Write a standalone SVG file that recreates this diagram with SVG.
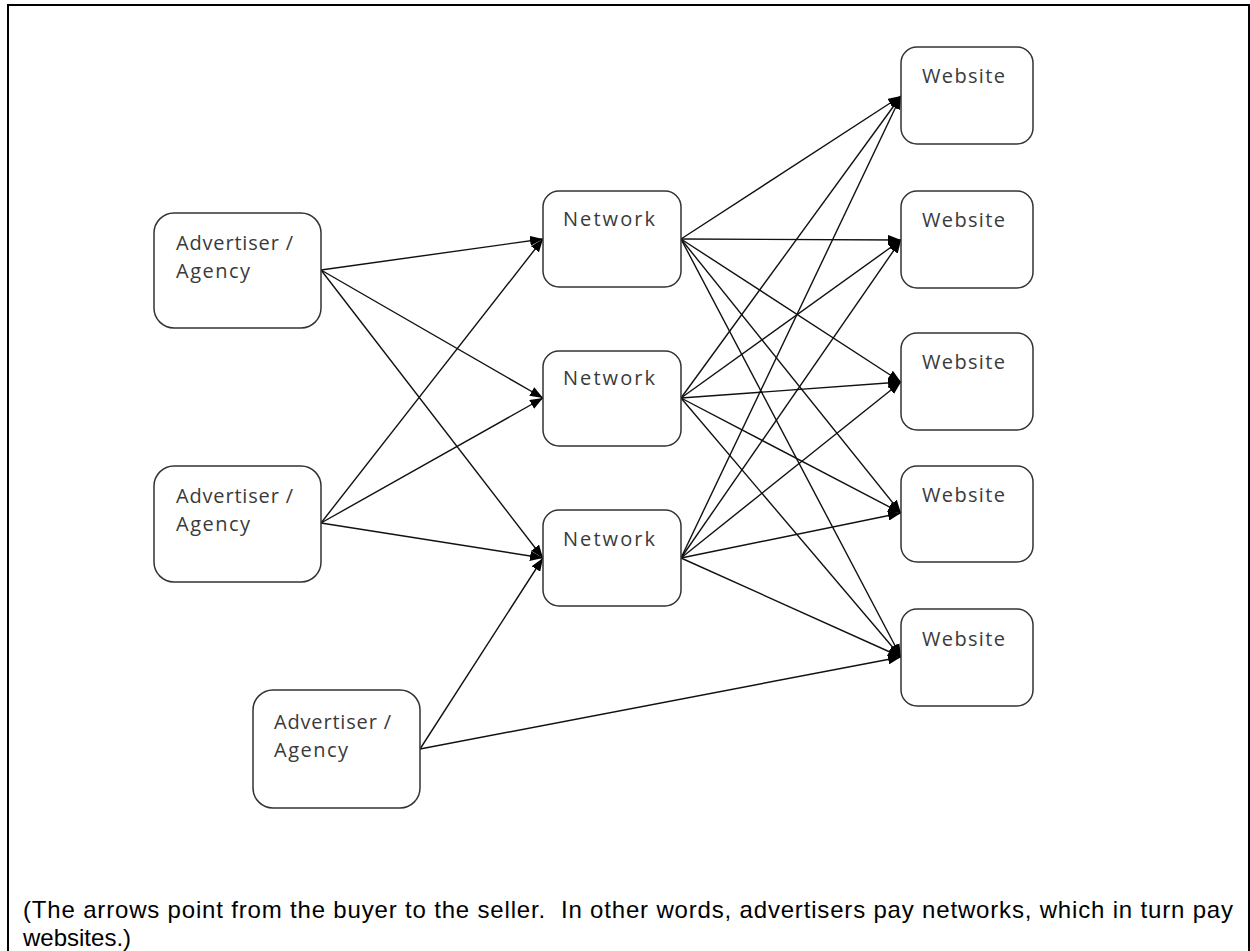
<svg xmlns="http://www.w3.org/2000/svg" width="1250" height="951" viewBox="0 0 1250 951">
<style>
.box{fill:#fff;stroke:#333;stroke-width:1.5}
.lbl{font-family:"Open Sans","Noto Sans",sans-serif;font-size:20px;fill:#3a3a3a}
.edge{stroke:#111;stroke-width:1.4;fill:none;marker-end:url(#ah)}
.cap{font-family:"Liberation Sans",Arial,sans-serif;font-size:24px;fill:#000}
.frame{stroke:#000;stroke-width:2;fill:none}
</style>
<defs>
<marker id="ah" markerUnits="userSpaceOnUse" markerWidth="13" markerHeight="10" refX="13" refY="5" orient="auto">
<path d="M0,0 L13,5 L0,10 z" fill="#000"/>
</marker>
</defs>
<rect width="1250" height="951" fill="#fff"/>
<path class="frame" d="M8,951 V5 H1249 V951"/>
<g id="connectors">
<line class="edge" x1="321" y1="270" x2="543" y2="239"/>
<line class="edge" x1="321" y1="270" x2="543" y2="398"/>
<line class="edge" x1="321" y1="270" x2="543" y2="558"/>
<line class="edge" x1="321" y1="523" x2="543" y2="239"/>
<line class="edge" x1="321" y1="523" x2="543" y2="398"/>
<line class="edge" x1="321" y1="523" x2="543" y2="558"/>
<line class="edge" x1="420" y1="749" x2="543" y2="558"/>
<line class="edge" x1="420" y1="749" x2="901" y2="657"/>
<line class="edge" x1="681" y1="239" x2="901" y2="96"/>
<line class="edge" x1="681" y1="239" x2="901" y2="240"/>
<line class="edge" x1="681" y1="239" x2="901" y2="382"/>
<line class="edge" x1="681" y1="239" x2="901" y2="513"/>
<line class="edge" x1="681" y1="239" x2="901" y2="657"/>
<line class="edge" x1="681" y1="398" x2="901" y2="96"/>
<line class="edge" x1="681" y1="398" x2="901" y2="240"/>
<line class="edge" x1="681" y1="398" x2="901" y2="382"/>
<line class="edge" x1="681" y1="398" x2="901" y2="513"/>
<line class="edge" x1="681" y1="398" x2="901" y2="657"/>
<line class="edge" x1="681" y1="558" x2="901" y2="96"/>
<line class="edge" x1="681" y1="558" x2="901" y2="240"/>
<line class="edge" x1="681" y1="558" x2="901" y2="382"/>
<line class="edge" x1="681" y1="558" x2="901" y2="513"/>
<line class="edge" x1="681" y1="558" x2="901" y2="657"/>
</g>
<g id="adv1">
<rect class="box" x="154" y="213" width="167" height="115" rx="20"/>
<text class="lbl" x="176" y="250" textLength="117">Advertiser /</text>
<text class="lbl" x="176" y="278" textLength="74">Agency</text>
</g>
<g id="adv2">
<rect class="box" x="154" y="466" width="167" height="116" rx="20"/>
<text class="lbl" x="176" y="503" textLength="117">Advertiser /</text>
<text class="lbl" x="176" y="531" textLength="74">Agency</text>
</g>
<g id="adv3">
<rect class="box" x="253" y="690" width="167" height="118" rx="20"/>
<text class="lbl" x="274" y="729" textLength="117">Advertiser /</text>
<text class="lbl" x="274" y="757" textLength="74">Agency</text>
</g>
<g id="net1">
<rect class="box" x="543" y="191" width="138" height="96" rx="16"/>
<text class="lbl" x="563" y="226" textLength="92">Network</text>
</g>
<g id="net2">
<rect class="box" x="543" y="351" width="138" height="95" rx="16"/>
<text class="lbl" x="563" y="385" textLength="92">Network</text>
</g>
<g id="net3">
<rect class="box" x="543" y="510" width="138" height="96" rx="16"/>
<text class="lbl" x="563" y="546" textLength="92">Network</text>
</g>
<g id="web1">
<rect class="box" x="901" y="47" width="132" height="97" rx="16"/>
<text class="lbl" x="922" y="83" textLength="83">Website</text>
</g>
<g id="web2">
<rect class="box" x="901" y="191" width="132" height="97" rx="16"/>
<text class="lbl" x="922" y="227" textLength="83">Website</text>
</g>
<g id="web3">
<rect class="box" x="901" y="333" width="132" height="97" rx="16"/>
<text class="lbl" x="922" y="369" textLength="83">Website</text>
</g>
<g id="web4">
<rect class="box" x="901" y="466" width="132" height="96" rx="16"/>
<text class="lbl" x="922" y="502" textLength="83">Website</text>
</g>
<g id="web5">
<rect class="box" x="901" y="609" width="132" height="97" rx="16"/>
<text class="lbl" x="922" y="646" textLength="83">Website</text>
</g>
<g id="caption">
<text class="cap" x="23" y="918" textLength="1210" xml:space="preserve">(The arrows point from the buyer to the seller.  In other words, advertisers pay networks, which in turn pay</text>
<text class="cap" x="23" y="946">websites.)</text>
</g>
</svg>
